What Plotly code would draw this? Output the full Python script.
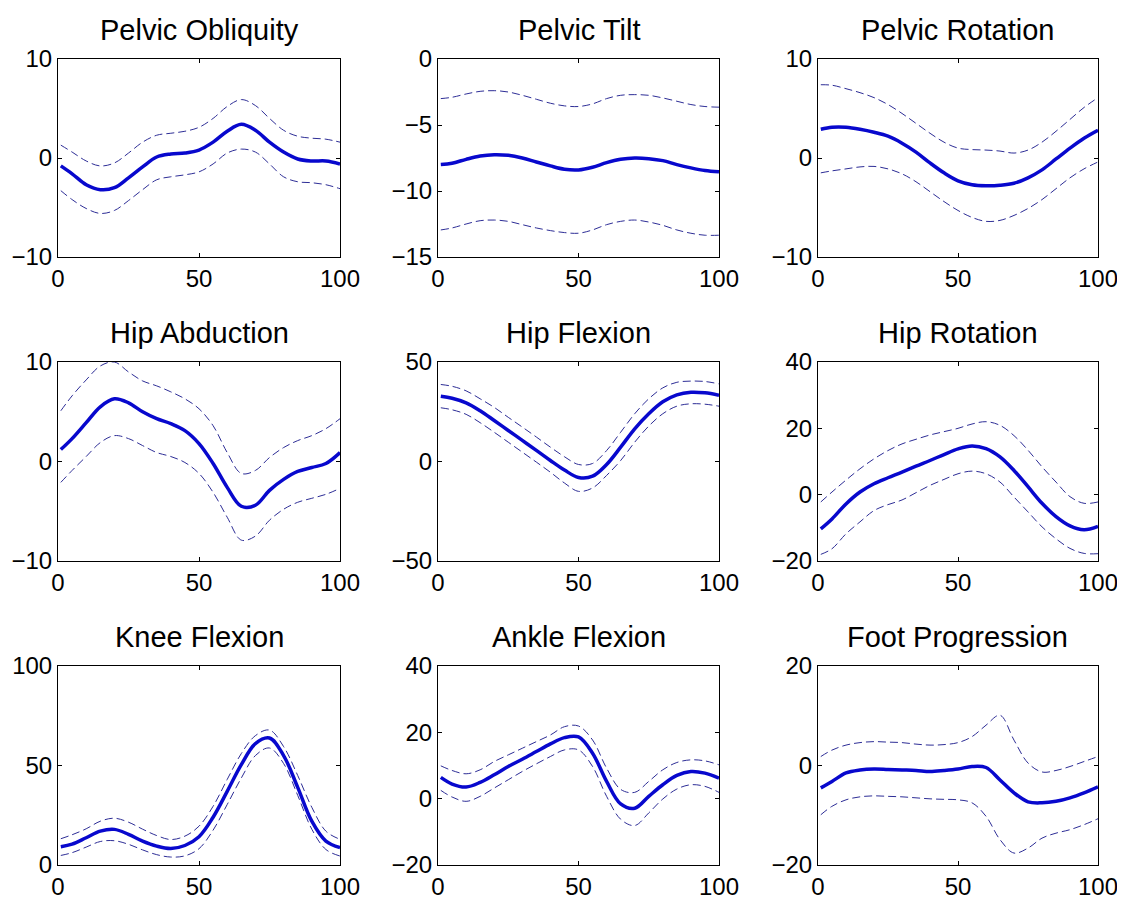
import plotly.graph_objects as go
from plotly.subplots import make_subplots

# gait cycle (%)
pct = [1, 5, 10, 15, 20, 25, 30, 35, 40, 45, 50, 55, 60, 65, 70, 75, 80, 85, 90, 95, 100]

titles = ['Pelvic Obliquity', 'Pelvic Tilt', 'Pelvic Rotation',
          'Hip Abduction', 'Hip Flexion', 'Hip Rotation',
          'Knee Flexion', 'Ankle Flexion', 'Foot Progression']

pelvic_obl_mean = [-0.8, -1.6, -2.7, -3.2, -3.0, -2.0, -0.9, 0.1, 0.4, 0.5, 0.8, 1.6, 2.7, 3.4, 2.8, 1.6, 0.6, -0.1, -0.3, -0.3, -0.6]
pelvic_obl_hi = [1.3, 0.6, -0.3, -0.8, -0.5, 0.5, 1.6, 2.3, 2.5, 2.7, 3.1, 4.0, 5.2, 5.9, 5.3, 4.0, 2.8, 2.2, 2.0, 1.9, 1.6]
pelvic_obl_lo = [-3.3, -4.2, -5.1, -5.6, -5.3, -4.3, -3.2, -2.2, -1.9, -1.7, -1.4, -0.6, 0.5, 0.9, 0.6, -0.6, -1.9, -2.4, -2.5, -2.7, -3.1]

pelvic_tilt_mean = [-8.0, -7.9, -7.6, -7.35, -7.25, -7.3, -7.5, -7.8, -8.1, -8.35, -8.4, -8.2, -7.85, -7.6, -7.5, -7.55, -7.7, -8.0, -8.25, -8.45, -8.55]
pelvic_tilt_hi = [-3.0, -2.9, -2.65, -2.45, -2.4, -2.5, -2.75, -3.05, -3.35, -3.55, -3.6, -3.4, -3.0, -2.75, -2.7, -2.75, -2.95, -3.2, -3.45, -3.6, -3.65]
pelvic_tilt_lo = [-12.95, -12.8, -12.5, -12.25, -12.2, -12.3, -12.55, -12.8, -13.0, -13.15, -13.2, -12.95, -12.55, -12.3, -12.2, -12.35, -12.6, -12.95, -13.2, -13.35, -13.35]

pelvic_rot_mean = [2.9, 3.1, 3.1, 2.9, 2.6, 2.2, 1.5, 0.6, -0.5, -1.5, -2.3, -2.7, -2.8, -2.75, -2.55, -2.0, -1.2, -0.1, 1.0, 2.0, 2.8]
pelvic_rot_hi = [7.4, 7.35, 7.0, 6.6, 6.1, 5.4, 4.5, 3.5, 2.5, 1.6, 1.0, 0.85, 0.8, 0.7, 0.5, 0.8, 1.6, 2.7, 3.9, 5.1, 6.1]
pelvic_rot_lo = [-1.5, -1.3, -1.1, -0.9, -0.85, -1.1, -1.6, -2.4, -3.4, -4.4, -5.3, -6.0, -6.4, -6.3, -5.8, -5.1, -4.2, -3.1, -2.0, -1.1, -0.4]

hip_abd_mean = [1.2, 2.3, 3.9, 5.5, 6.3, 5.9, 5.0, 4.3, 3.8, 3.1, 1.8, -0.2, -2.6, -4.5, -4.4, -2.9, -1.8, -1.0, -0.6, -0.2, 0.9]
hip_abd_hi = [5.1, 6.6, 8.2, 9.6, 10.0, 9.0, 8.1, 7.6, 7.0, 6.3, 5.3, 3.6, 0.9, -1.2, -0.9, 0.4, 1.4, 2.1, 2.6, 3.3, 4.3]
hip_abd_lo = [-2.1, -0.9, 0.5, 1.9, 2.6, 2.3, 1.6, 0.9, 0.5, -0.1, -1.2, -3.1, -5.6, -7.9, -7.5, -5.9, -4.8, -4.1, -3.7, -3.3, -2.7]

hip_flex_mean = [32.8, 31.8, 29.5, 25.5, 20.6, 15.6, 10.6, 5.6, 0.5, -4.3, -8.0, -7.4, -1.5, 7.2, 16.4, 24.0, 30.0, 33.5, 34.8, 34.5, 33.3]
hip_flex_hi = [38.7, 37.8, 35.5, 31.5, 27.2, 22.2, 17.3, 12.3, 7.2, 2.4, -1.5, -1.0, 5.5, 14.7, 24.0, 31.5, 37.0, 39.8, 40.4, 40.2, 39.0]
hip_flex_lo = [27.0, 26.0, 23.7, 19.5, 14.7, 9.7, 4.7, -0.3, -5.4, -10.8, -15.0, -13.3, -7.0, 0.5, 9.7, 17.8, 24.0, 27.8, 29.0, 28.8, 27.8]

hip_rot_mean = [-10.3, -7.3, -2.8, 0.8, 3.3, 5.1, 6.8, 8.6, 10.3, 12.1, 13.8, 14.7, 13.9, 11.4, 7.3, 2.4, -2.6, -6.6, -9.4, -10.6, -9.6]
hip_rot_hi = [-2.2, 0.8, 4.4, 7.8, 10.8, 13.3, 15.3, 16.7, 18.0, 19.0, 20.0, 21.3, 22.0, 20.9, 17.8, 13.4, 8.4, 3.8, -0.6, -2.6, -2.2]
hip_rot_lo = [-18.0, -16.3, -11.8, -8.2, -4.8, -3.0, -1.6, 0.6, 2.8, 4.6, 6.3, 7.1, 6.3, 3.8, -0.7, -5.2, -9.7, -13.3, -16.2, -17.7, -17.8]

knee_flex_mean = [9.2, 10.5, 13.7, 17.0, 17.9, 15.4, 12.0, 9.5, 8.3, 9.8, 14.2, 24.0, 37.0, 50.4, 61.0, 63.8, 55.0, 39.0, 22.0, 12.0, 8.7]
knee_flex_hi = [13.2, 15.2, 18.2, 22.0, 23.5, 21.5, 18.0, 14.8, 12.8, 14.5, 19.5, 29.5, 43.0, 56.0, 65.0, 67.8, 59.5, 45.0, 29.0, 17.0, 12.9]
knee_flex_lo = [4.8, 6.2, 9.0, 11.8, 12.2, 10.4, 7.6, 5.2, 4.0, 4.6, 8.2, 17.5, 30.4, 43.7, 55.0, 58.8, 51.0, 35.0, 18.0, 7.8, 4.5]

ankle_flex_mean = [6.4, 4.4, 3.5, 4.9, 7.2, 9.7, 11.9, 14.2, 16.5, 18.4, 18.6, 13.7, 5.2, -1.6, -2.9, 0.7, 4.2, 7.0, 8.2, 7.7, 6.2]
ankle_flex_hi = [9.9, 8.5, 7.5, 8.7, 11.2, 13.2, 15.2, 17.2, 19.2, 21.7, 21.9, 17.7, 9.2, 2.8, 1.9, 5.2, 8.7, 10.9, 11.7, 11.4, 10.2]
ankle_flex_lo = [2.5, 0.5, -0.8, 0.7, 3.2, 5.7, 8.2, 10.5, 12.7, 14.7, 14.7, 9.7, 0.7, -6.2, -8.1, -4.3, -0.1, 2.9, 4.2, 3.7, 1.9]

foot_prog_mean = [-4.5, -3.2, -1.5, -0.9, -0.7, -0.8, -0.9, -1.0, -1.2, -1.0, -0.7, -0.2, -0.4, -2.9, -5.5, -7.3, -7.5, -7.2, -6.5, -5.5, -4.3]
foot_prog_hi = [1.8, 3.1, 4.1, 4.6, 4.8, 4.7, 4.6, 4.3, 4.1, 4.2, 4.6, 5.8, 8.1, 10.1, 5.1, 0.5, -1.3, -1.0, -0.2, 0.8, 1.8]
foot_prog_lo = [-9.9, -8.2, -6.9, -6.3, -6.1, -6.2, -6.3, -6.5, -6.7, -6.8, -6.9, -7.5, -10.2, -14.9, -17.6, -16.6, -14.6, -13.6, -12.9, -11.9, -10.7]

means = [pelvic_obl_mean, pelvic_tilt_mean, pelvic_rot_mean,
         hip_abd_mean, hip_flex_mean, hip_rot_mean,
         knee_flex_mean, ankle_flex_mean, foot_prog_mean]
uppers = [pelvic_obl_hi, pelvic_tilt_hi, pelvic_rot_hi,
          hip_abd_hi, hip_flex_hi, hip_rot_hi,
          knee_flex_hi, ankle_flex_hi, foot_prog_hi]
lowers = [pelvic_obl_lo, pelvic_tilt_lo, pelvic_rot_lo,
          hip_abd_lo, hip_flex_lo, hip_rot_lo,
          knee_flex_lo, ankle_flex_lo, foot_prog_lo]

y_ranges = [[-10, 10], [-15, 0], [-10, 10],
            [-10, 10], [-50, 50], [-20, 40],
            [0, 100], [-20, 40], [-20, 20]]
y_ticks = [[-10, 0, 10], [-15, -10, -5, 0], [-10, 0, 10],
           [-10, 0, 10], [-50, 0, 50], [-20, 0, 20, 40],
           [0, 50, 100], [-20, 0, 20, 40], [-20, 0, 20]]
x_ticks = [0, 50, 100]

# page body adds an 8px margin, so the figure is shifted by that much
OFF = 8
W, H = 1125 - OFF, 897 - OFF
col_px = [(58, 340), (438, 719), (818, 1098)]
row_px = [(59, 257), (362, 561), (666, 865)]

MEAN_COL = 'rgb(8,8,205)'
SD_COL = 'rgb(45,45,150)'
FONT = 'Liberation Sans, Arial'

fig = make_subplots(rows=3, cols=3)

for i in range(9):
    r, c = i // 3 + 1, i % 3 + 1
    for band in (uppers[i], lowers[i]):
        fig.add_trace(go.Scatter(x=pct, y=band, mode='lines', line_shape='spline',
                                 line=dict(color=SD_COL, width=1, dash='8px,4px'),
                                 showlegend=False, hoverinfo='skip'), row=r, col=c)
    fig.add_trace(go.Scatter(x=pct, y=means[i], mode='lines', line_shape='spline',
                             line=dict(color=MEAN_COL, width=3.5),
                             showlegend=False), row=r, col=c)

    x0, x1 = (p - OFF for p in col_px[c - 1])
    y0, y1 = (p - OFF for p in row_px[r - 1])
    axn = '' if i == 0 else str(i + 1)
    fig.layout['xaxis' + axn].update(
        domain=[x0 / W, x1 / W], range=[0, 100], tickvals=x_ticks,
    )
    fig.layout['yaxis' + axn].update(
        domain=[1 - y1 / H, 1 - y0 / H], range=y_ranges[i], tickvals=y_ticks[i],
    )
    fig.add_annotation(text=titles[i], xref='paper', yref='paper',
                       x=(x0 + x1) / 2 / W, y=1 - y0 / H, yshift=29,
                       xanchor='center', yanchor='middle', showarrow=False,
                       font=dict(size=29, color='black', family=FONT))

axis_style = dict(showline=True, linewidth=1, linecolor='black', mirror='allticks',
                  ticks='inside', ticklen=4, tickcolor='black', showgrid=False,
                  zeroline=False, automargin=False,
                  tickfont=dict(size=24, color='black', family=FONT))
fig.update_xaxes(**axis_style)
fig.update_yaxes(**axis_style)

fig.update_layout(
    width=W, height=H,
    margin=dict(l=0, r=0, t=0, b=0),
    paper_bgcolor='white', plot_bgcolor='white',
    font=dict(family=FONT, color='black'),
    showlegend=False,
)

fig.write_html('out.html')
